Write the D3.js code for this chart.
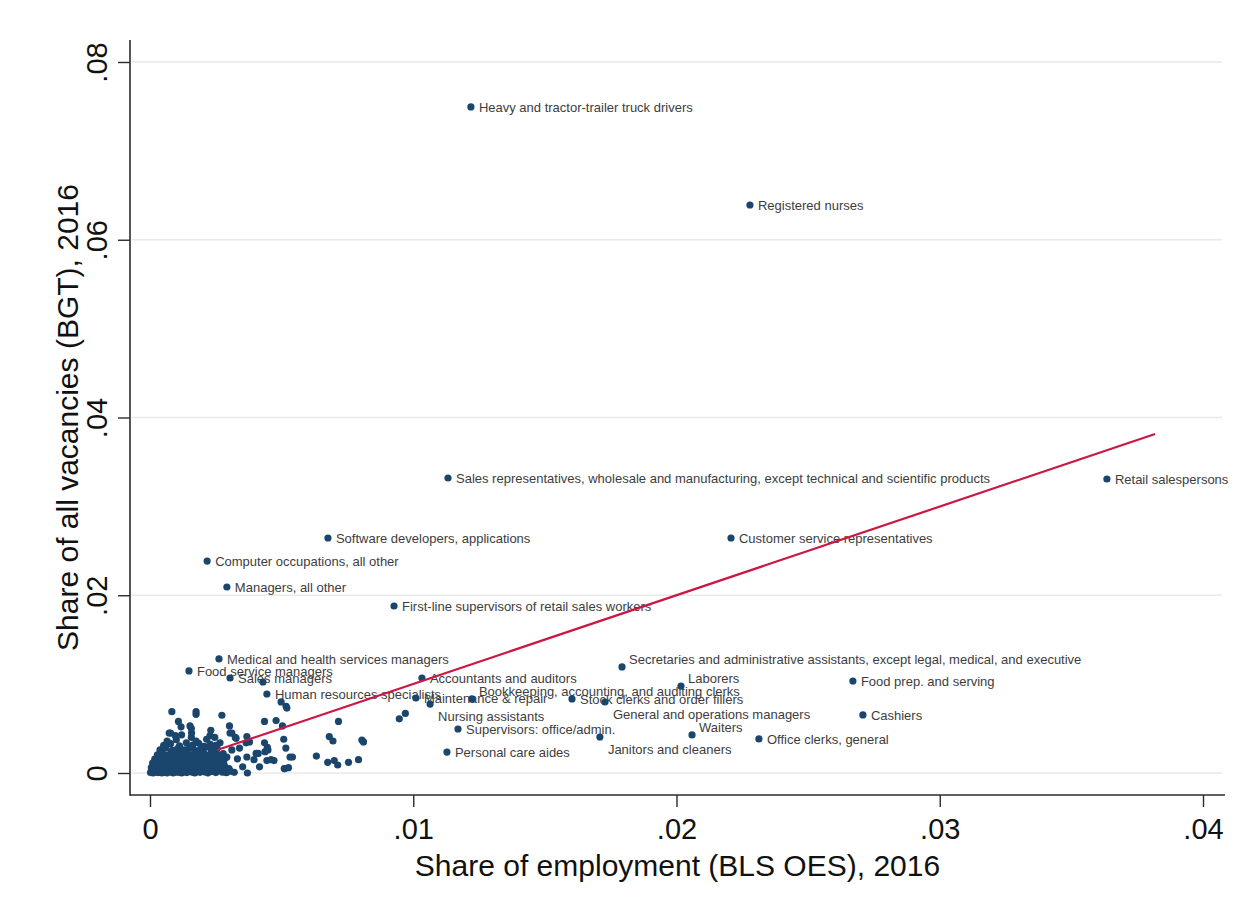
<!DOCTYPE html>
<html>
<head>
<meta charset="utf-8">
<script src="https://cdn.jsdelivr.net/npm/d3@7"></script>
<style>
  body { margin: 0; background: #ffffff; }
  text { font-family: "Liberation Sans", Arial, sans-serif; }
</style>
</head>
<body>
<svg id="chart" width="1250" height="903"></svg>
<script>
// Labelled occupations: share of employment (BLS OES) vs share of vacancies (BGT), 2016
const occupations = [
  "Heavy and tractor-trailer truck drivers",
  "Registered nurses",
  "Sales representatives, wholesale and manufacturing, except technical and scientific products",
  "Retail salespersons",
  "Software developers, applications",
  "Customer service representatives",
  "Computer occupations, all other",
  "Managers, all other",
  "First-line supervisors of retail sales workers",
  "Secretaries and administrative assistants, except legal, medical, and executive",
  "Medical and health services managers",
  "Food service managers",
  "Sales managers",
  "Human resources specialists",
  "Accountants and auditors",
  "Maintenance & repair",
  "Nursing assistants",
  "Bookkeeping, accounting, and auditing clerks",
  "Stock clerks and order fillers",
  "General and operations managers",
  "Laborers",
  "Supervisors: office/admin.",
  "Personal care aides",
  "Janitors and cleaners",
  "Waiters",
  "Food prep. and serving",
  "Cashiers",
  "Office clerks, general"
];
const empShare = [
  0.01219, 0.02279, 0.01132, 0.03635, 0.00676, 0.02207, 0.00217, 0.00292,
  0.00927, 0.01793, 0.00262, 0.00148, 0.00304, 0.00444, 0.01033, 0.01010,
  0.01064, 0.01223, 0.01603, 0.01728, 0.02017, 0.01170, 0.01128, 0.01709,
  0.02059, 0.02670, 0.02708, 0.02313
];
const vacShare = [
  0.07494, 0.06391, 0.03319, 0.03308, 0.02644, 0.02644, 0.02385, 0.02093,
  0.01879, 0.01193, 0.01283, 0.01148, 0.01069, 0.00889, 0.01069, 0.00844,
  0.00776, 0.00833, 0.00833, 0.00799, 0.00979, 0.00495, 0.00236, 0.00405,
  0.00428, 0.01035, 0.00653, 0.00383
];
// marker-label clock position (3 = right, 2 = upper right, 4 = lower right)
const labelPos = [
  3, 3, 3, 3, 3, 3, 3, 3,
  3, 2, 3, 3, 3, 3, 3, 3,
  4, 2, 3, 4, 2, 3, 3, 4,
  2, 3, 3, 3
];

// Remaining (unlabelled) occupations: [employment share, vacancy share]
const otherPoints = [
  [0.00429, 0.01024],
  [0.00083, 0.0069], [0.00175, 0.0069], [0.00175, 0.0066], [0.00273, 0.0065],
  [0.00108, 0.0058], [0.00118, 0.0052], [0.00157, 0.0050], [0.00231, 0.0048],
  [0.00302, 0.0053], [0.00073, 0.0045], [0.00096, 0.0042], [0.00157, 0.0040],
  [0.00246, 0.0040], [0.00311, 0.0045], [0.00327, 0.0039], [0.00368, 0.0041],
  [0.00435, 0.0058], [0.00479, 0.0059], [0.00503, 0.0053], [0.00508, 0.0038],
  [0.00498, 0.0080], [0.00517, 0.0075], [0.00520, 0.0073], [0.00716, 0.0058],
  [0.00681, 0.0041], [0.00695, 0.0036], [0.00632, 0.0019], [0.00675, 0.0012],
  [0.00700, 0.0014], [0.00713, 0.0009], [0.00754, 0.0012], [0.00792, 0.0015],
  [0.00805, 0.0037], [0.00811, 0.0035], [0.00947, 0.0061], [0.00970, 0.0067],
  [0.00446, 0.0029], [0.00437, 0.0024], [0.00403, 0.0022], [0.00395, 0.0015],
  [0.00368, 0.0018], [0.00352, 0.0007], [0.00370, 0.0000], [0.00416, 0.0007],
  [0.00444, 0.0014], [0.00471, 0.0014], [0.00516, 0.0028], [0.00510, 0.0005],
  [0.00526, 0.0006], [0.00532, 0.0018], [0.00541, 0.0018], [0.00332, 0.0016],
  [0.00311, 0.0026], [0.00292, 0.0018], [0.00340, 0.0028], [0.00051, 0.0028],
  [0.00152, 0.0053], [0.00158, 0.0045], [0.00078, 0.0045], [0.00120, 0.0043],
  [0.00228, 0.0042], [0.00266, 0.0034], [0.00304, 0.0045], [0.00324, 0.0040],
  [0.00365, 0.0034], [0.00378, 0.0035], [0.00435, 0.0034], [0.00448, 0.0026],
  [0.00411, 0.0022], [0.00460, 0.0015], [0.00512, 0.0005],
  // dense group near the origin
  [0.00002, 0.00005], [0.00008, 0.0002], [0.00012, 0.0000], [0.00018, 0.0001],
  [0.00025, 0.0003], [0.00030, 0.00005], [0.00038, 0.00015], [0.00045, 0.0000],
  [0.00050, 0.00025], [0.00058, 0.0001], [0.00065, 0.00002], [0.00072, 0.0003],
  [0.00080, 0.00012], [0.00088, 0.0000], [0.00095, 0.00022], [0.00105, 0.00008],
  [0.00112, 0.0003], [0.00120, 0.0000], [0.00130, 0.00015], [0.00140, 0.00005],
  [0.00150, 0.00028], [0.00160, 0.0001], [0.00170, 0.0000], [0.00180, 0.0002],
  [0.00190, 0.00008], [0.00200, 0.0003], [0.00210, 0.00012], [0.00220, 0.00002],
  [0.00235, 0.00018], [0.00250, 0.00005], [0.00262, 0.00025], [0.00275, 0.0001],
  [0.00290, 0.00004], [0.00305, 0.0002], [0.00320, 0.00008],
  [0.00005, 0.0006], [0.00015, 0.0005], [0.00022, 0.00075], [0.00033, 0.00055],
  [0.00042, 0.0008], [0.00052, 0.0006], [0.00062, 0.00045], [0.00070, 0.0007],
  [0.00082, 0.00055], [0.00090, 0.0008], [0.00100, 0.0005], [0.00110, 0.00065],
  [0.00122, 0.0008], [0.00132, 0.00048], [0.00145, 0.0007], [0.00155, 0.00055],
  [0.00168, 0.00078], [0.00178, 0.0005], [0.00190, 0.00062], [0.00202, 0.0008],
  [0.00215, 0.0005], [0.00228, 0.00068], [0.00242, 0.00045], [0.00255, 0.00075],
  [0.00270, 0.00055], [0.00285, 0.0007], [0.00300, 0.0005],
  [0.00010, 0.0011], [0.00020, 0.00125], [0.00030, 0.0010], [0.00045, 0.0012],
  [0.00055, 0.00105], [0.00068, 0.0013], [0.00078, 0.0011], [0.00092, 0.00122],
  [0.00102, 0.0010], [0.00115, 0.00115], [0.00128, 0.0013], [0.00138, 0.00105],
  [0.00152, 0.0012], [0.00162, 0.0010], [0.00175, 0.00128], [0.00188, 0.0011],
  [0.00200, 0.0012], [0.00212, 0.00102], [0.00225, 0.0013], [0.00240, 0.00112],
  [0.00255, 0.0010], [0.00268, 0.00125], [0.00280, 0.0011],
  [0.00018, 0.00155], [0.00032, 0.0017], [0.00048, 0.0015], [0.00060, 0.0018],
  [0.00075, 0.0016], [0.00088, 0.00145], [0.00100, 0.00175], [0.00112, 0.00155],
  [0.00125, 0.0017], [0.00140, 0.0015], [0.00155, 0.0018], [0.00168, 0.00158],
  [0.00182, 0.0017], [0.00195, 0.0015], [0.00208, 0.00178], [0.00220, 0.0016],
  [0.00238, 0.0015], [0.00252, 0.00172], [0.00265, 0.00155], [0.00285, 0.00165],
  [0.00028, 0.00205], [0.00045, 0.0022], [0.00062, 0.0020], [0.00080, 0.0023],
  [0.00095, 0.0021], [0.00108, 0.00225], [0.00125, 0.0020], [0.00142, 0.0022],
  [0.00158, 0.00205], [0.00175, 0.0023], [0.00190, 0.0021], [0.00205, 0.0022],
  [0.00222, 0.0020], [0.00245, 0.00225], [0.00260, 0.00205], [0.00278, 0.00218],
  [0.00038, 0.0026], [0.00060, 0.0028], [0.00085, 0.00255], [0.00105, 0.00275],
  [0.00130, 0.0026], [0.00150, 0.00285], [0.00170, 0.00255], [0.00192, 0.0027],
  [0.00210, 0.0029], [0.00232, 0.0026], [0.00255, 0.00275],
  [0.00052, 0.0031], [0.00078, 0.0033], [0.00112, 0.00305], [0.00138, 0.0034],
  [0.00162, 0.00315], [0.00185, 0.00335], [0.00205, 0.0030], [0.00228, 0.00325],
  [0.00250, 0.0031],
  [0.00065, 0.0036], [0.00100, 0.00375], [0.00175, 0.0036], [0.00215, 0.0038]
];

// 45-degree reference fit over the range of employment shares
const fitEmp = [0.00255, 0.03818];
const fitVac = [0.00259, 0.03814];

const xTicks = [0, 0.01, 0.02, 0.03, 0.04];
const xTickLabels = ["0", ".01", ".02", ".03", ".04"];
const yTicks = [0, 0.02, 0.04, 0.06, 0.08];
const yTickLabels = ["0", ".02", ".04", ".06", ".08"];

const xTitle = "Share of employment (BLS OES), 2016";
const yTitle = "Share of all vacancies (BGT), 2016";

// ---- layout ----
const svg = d3.select("#chart");
svg.append("rect").attr("width", 1250).attr("height", 903).attr("fill", "#ffffff");

const region = { left: 130, right: 1225, top: 40, bottom: 795 };
const x = d3.scaleLinear().domain([0, 0.04]).range([150, 1203]);
const y = d3.scaleLinear().domain([0, 0.08]).range([773, 62]);

const axisColor = "#2b2b2b";
const markerColor = "#1a456d";
const labelColor = "#3d3d3d";
const fitColor = "#cc1744";

// grid lines
svg.append("g").selectAll("line").data(yTicks).join("line")
  .attr("x1", region.left + 2).attr("x2", region.right - 3)
  .attr("y1", d => y(d)).attr("y2", d => y(d))
  .attr("stroke", "#e9e9e9").attr("stroke-width", 1.6);

// y axis
const yAxis = svg.append("g").attr("transform", `translate(${region.left},0)`)
  .call(d3.axisLeft(y).tickValues(yTicks).tickSize(12).tickSizeOuter(0)
    .tickFormat((d, i) => yTickLabels[i]));
yAxis.select(".domain").remove();
yAxis.selectAll(".tick line").attr("stroke", axisColor).attr("stroke-width", 1.4);
yAxis.selectAll(".tick text")
  .attr("transform", "rotate(-90)")
  .attr("x", 0).attr("y", -23).attr("dy", 0)
  .style("text-anchor", "middle")
  .style("font-size", "29px")
  .attr("fill", "#111");

// x axis
const xAxis = svg.append("g").attr("transform", `translate(0,${region.bottom})`)
  .call(d3.axisBottom(x).tickValues(xTicks).tickSize(12).tickSizeOuter(0)
    .tickFormat((d, i) => xTickLabels[i]));
xAxis.select(".domain").remove();
xAxis.selectAll(".tick line").attr("stroke", axisColor).attr("stroke-width", 1.4);
xAxis.selectAll(".tick text")
  .attr("y", 23).attr("dy", "0.71em")
  .style("font-size", "29px")
  .attr("fill", "#111");

// axis lines framing the plot region
svg.append("line")
  .attr("x1", region.left).attr("x2", region.left)
  .attr("y1", region.top).attr("y2", region.bottom + 0.7)
  .attr("stroke", axisColor).attr("stroke-width", 1.6);
svg.append("line")
  .attr("x1", region.left).attr("x2", region.right)
  .attr("y1", region.bottom).attr("y2", region.bottom)
  .attr("stroke", axisColor).attr("stroke-width", 1.6);

// axis titles
svg.append("text")
  .attr("x", (region.left + region.right) / 2).attr("y", 876)
  .attr("text-anchor", "middle")
  .style("font-size", "30px").attr("fill", "#111")
  .text(xTitle);
svg.append("text")
  .attr("transform", `translate(78,${(region.top + region.bottom) / 2}) rotate(-90)`)
  .attr("text-anchor", "middle")
  .style("font-size", "30px").attr("fill", "#111")
  .text(yTitle);

// marker labels
const labelled = occupations.map((name, i) => ({
  name, emp: empShare[i], vac: vacShare[i], pos: labelPos[i]
}));
const offsets = { 2: [7, -8], 3: [8, 0], 4: [8, 12] };
svg.append("g").selectAll("text").data(labelled).join("text")
  .attr("x", d => x(d.emp) + offsets[d.pos][0])
  .attr("y", d => y(d.vac) + offsets[d.pos][1])
  .attr("dy", "0.36em")
  .style("font-size", "13px")
  .attr("fill", labelColor)
  .text(d => d.name);

// markers
const allPoints = otherPoints.map(p => ({ emp: p[0], vac: p[1] }))
  .concat(labelled);
svg.append("g").selectAll("circle").data(allPoints).join("circle")
  .attr("cx", d => x(d.emp)).attr("cy", d => y(d.vac))
  .attr("r", 3.6)
  .attr("fill", markerColor);

// fitted line
svg.append("path")
  .datum(fitEmp.map((e, i) => [e, fitVac[i]]))
  .attr("d", d3.line().x(d => x(d[0])).y(d => y(d[1])))
  .attr("fill", "none")
  .attr("stroke", fitColor)
  .attr("stroke-width", 2.2);
</script>
</body>
</html>
